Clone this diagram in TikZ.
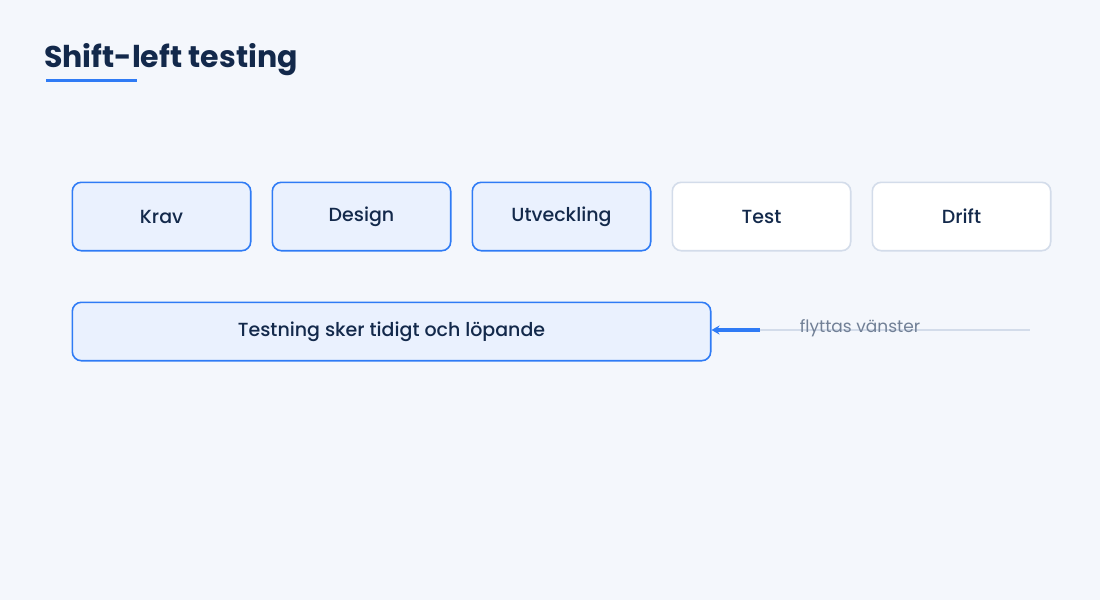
\documentclass[tikz,border=0pt]{standalone}
\usepackage{fontspec}
\setmainfont{Poppins}
\newfontfamily\medel{Poppins Medium}
\usetikzlibrary{positioning, arrows.meta}
\definecolor{bgcol}{HTML}{F4F7FC}
\definecolor{blau}{HTML}{2F7BF5}
\definecolor{ljusblau}{HTML}{EAF1FE}
\definecolor{mork}{HTML}{13294B}
\definecolor{gralinje}{HTML}{D3DCEA}
\definecolor{gratext}{HTML}{718096}
\tikzstyle{fas} = [rectangle, rounded corners=9pt, minimum width=178.4pt, minimum height=68.4pt, inner sep=0pt, text centered, draw=blau, line width=1.6pt, fill=ljusblau, text=mork, font=\medel\fontsize{19}{22}\selectfont]
\tikzstyle{fassen} = [fas, draw=gralinje, fill=white]
\tikzstyle{bred} = [fas, minimum width=638.4pt, minimum height=58.4pt]
\tikzstyle{arrow} = [line width=4pt, blau, -{Stealth[length=8pt, width=9pt]}]

\begin{document}
\begin{tikzpicture}[x=1pt, y=-1pt, node distance=20pt]
  \fill[bgcol] (0,0) rectangle (1100,600);
  \useasboundingbox (0,0) rectangle (1100,600);
  % rubrik
  \node (rubrik) [anchor=base west, inner sep=0pt, text=mork, font=\fontsize{30}{34}\selectfont\bfseries] at (44,67) {Shift-left testing};
  \draw[blau, line width=3pt] (46,80.5) -- (137,80.5);
  % faser
  \node (krav) [fas, anchor=north west] at (71.5,181.5) {Krav};
  \node (design) [fas, right=of krav] {Design};
  \node (utv) [fas, right=of design] {Utveckling};
  \node (test) [fassen, right=of utv] {Test};
  \node (drift) [fassen, right=of test] {Drift};
  \node (testning) [bred, anchor=north west] at (71.5,301.5) {Testning sker tidigt och löpande};
  % pil
  \coordinate (pilstart) at (760,330);
  \coordinate (linjeslut) at (1030,330);
  \draw[gralinje, line width=2pt] (pilstart) -- (linjeslut);
  \node (flytt) [text=gratext, font=\fontsize{17}{20}\selectfont] at (860,328) {flyttas vänster};
  \draw[arrow] (pilstart) -- (testning.east |- pilstart);
\end{tikzpicture}
\end{document}
